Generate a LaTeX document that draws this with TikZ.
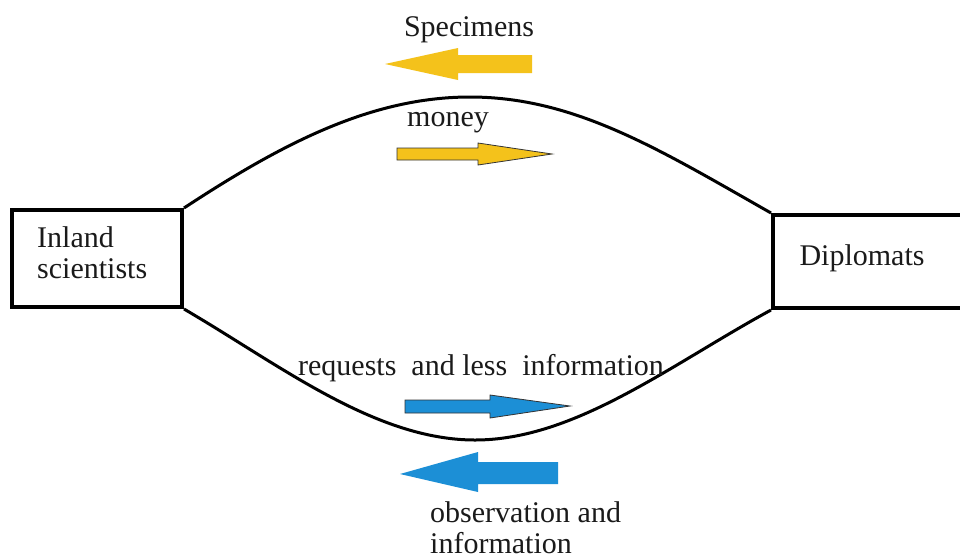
\documentclass[tikz,border=0pt]{standalone}
\usepackage{fontspec}
\setmainfont{Liberation Serif}
\definecolor{gold}{HTML}{F4C21B}
\definecolor{skyb}{HTML}{1C8FD6}
\definecolor{txt}{HTML}{1A1A1A}
\begin{document}
\begin{tikzpicture}[x=1pt,y=-1pt,
  box/.style={draw=black,line width=4pt,minimum width=#1,minimum height=97pt,inner sep=0pt},
  curve/.style={draw=black,line width=3pt},
  lbl/.style={font=\fontsize{30}{32}\selectfont,text=txt,inner sep=0pt},
  bigarrow/.style={fill=#1,draw=none},
  smallarrow/.style={fill=#1,draw=black!80,line width=0.8pt}]
\useasboundingbox (0,0) rectangle (960,558);
\fill[white] (0,0) rectangle (960,558);
% boxes
\node[box=170pt] (L) at (97,258.5) {};
\node[box=192pt,minimum height=93pt] (R) at (869,261.5) {};
\node[lbl,align=left,anchor=north west] (Lt) at (37,226) {Inland\\[-1pt]scientists};
\node[lbl] (Rt) at (862,258) {Diplomats};
% curves
\coordinate (top) at (470,97);
\coordinate (bot) at (475,440);
\draw[curve] (L.north east) .. controls (280,145) and (370,97) .. (top)
  .. controls (575,97) and (660,150) .. (R.north west);
\draw[curve] (L.south east) .. controls (280,365) and (375,440) .. (bot)
  .. controls (575,440) and (670,365) .. (R.south west);
% labels
\node[lbl] (spec) at (469,30) {Specimens};
\node[lbl] (money) at (448,123) {money};
\node[lbl] (req) at (481,368) {requests\ \ and less\ \ information};
\node[lbl,align=left,anchor=north west] (obs) at (430,501) {observation and\\[-1pt]information};
% big yellow left arrow
\fill[bigarrow=gold] (532,55) -- (458,55) -- (458,48) -- (385,64) -- (458,80) -- (458,73) -- (532,73) -- cycle;
% small yellow right arrow
\draw[smallarrow=gold] (397,148) -- (478,148) -- (478,143) -- (552,154) -- (478,165) -- (478,160) -- (397,160) -- cycle;
% small blue right arrow
\draw[smallarrow=skyb] (405,400) -- (490,400) -- (490,395) -- (570,406) -- (490,418) -- (490,413) -- (405,413) -- cycle;
% big blue left arrow
\fill[bigarrow=skyb] (558,462) -- (478,462) -- (478,452) -- (400,474) -- (478,492) -- (478,484) -- (558,484) -- cycle;
\end{tikzpicture}
\end{document}
